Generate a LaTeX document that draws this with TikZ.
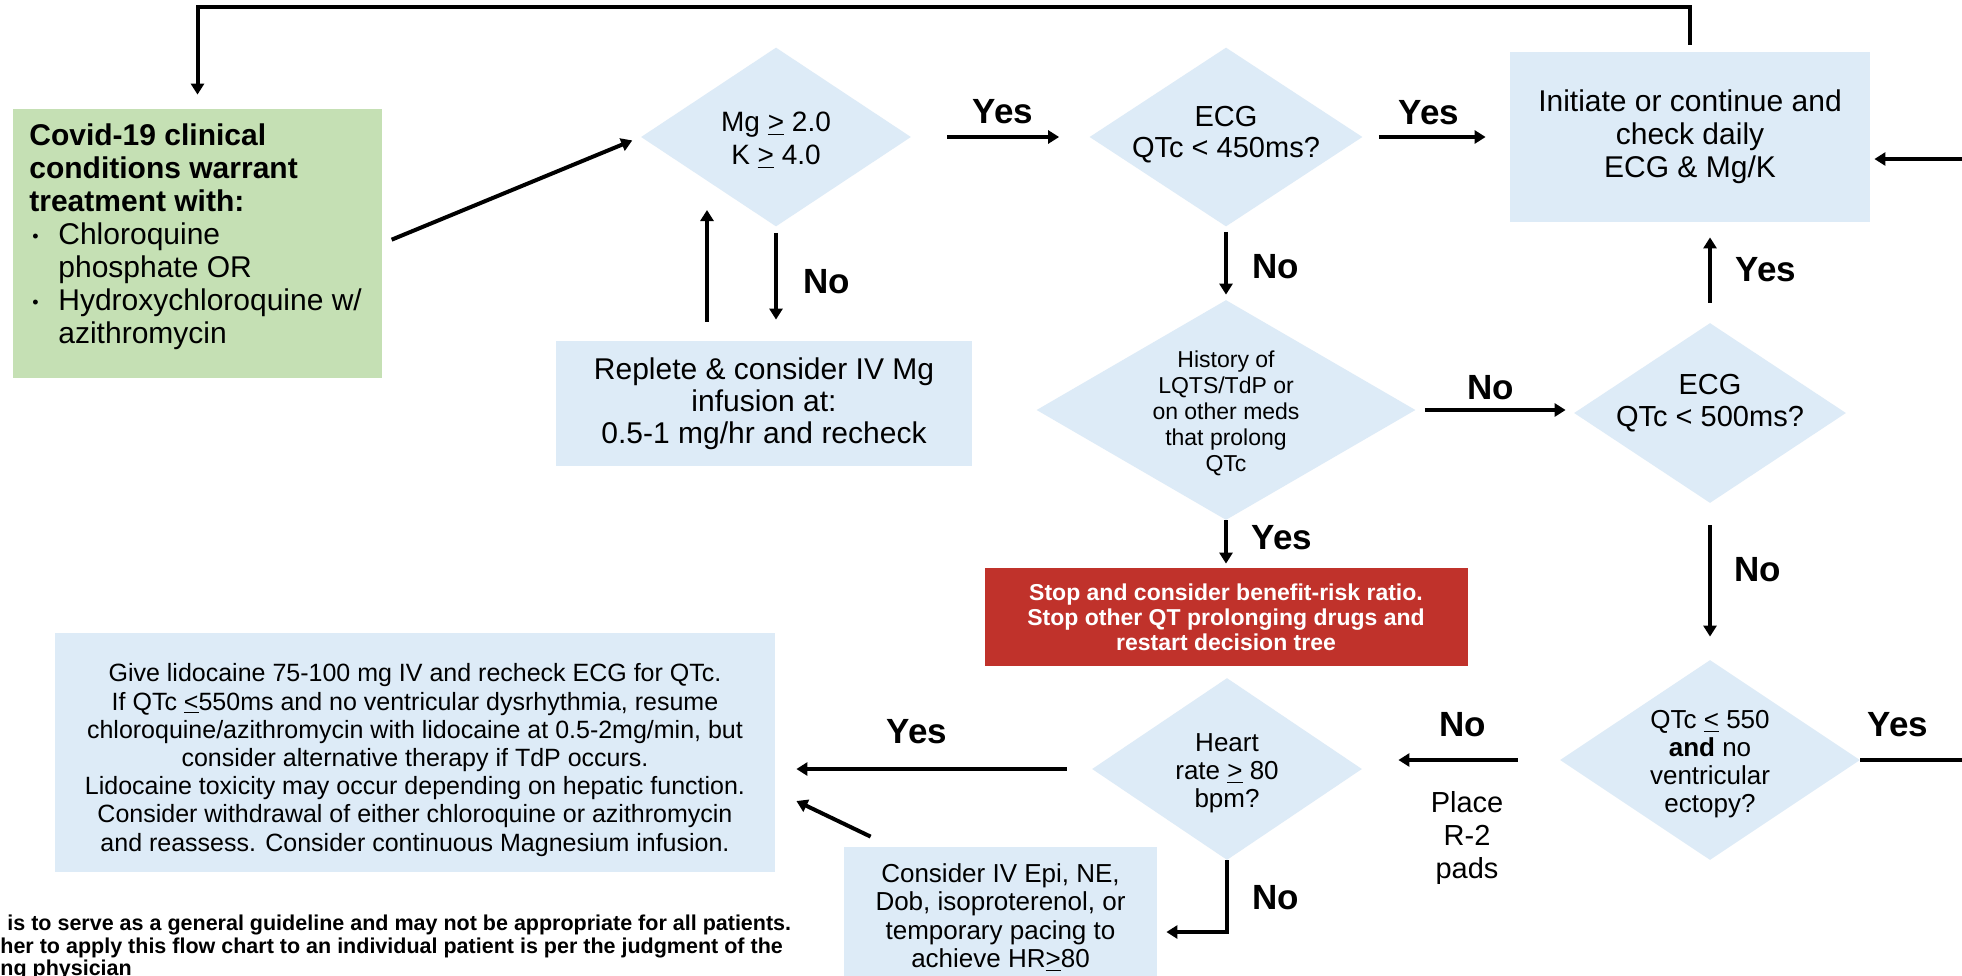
\documentclass[tikz,border=0pt]{standalone}
\usepackage{fontspec}
\setmainfont{Liberation Sans}
\usetikzlibrary{shapes.geometric,arrows.meta}
\definecolor{boxblue}{RGB}{221,235,247}
\definecolor{startgreen}{RGB}{197,224,180}
\definecolor{stopred}{RGB}{192,50,43}
\newcommand\ugt{\underline{>}}
\newcommand\ult{\underline{<}}
\newcommand\fs[2]{\fontsize{#1}{#2}\selectfont}
\newcommand\itembul{\hspace*{1.5pt}\makebox[13pt][l]{\raisebox{1pt}{\fs{9}{9}•}}}

\begin{document}
\begin{tikzpicture}[x=0.5pt,y=-0.5pt,
  flowbox/.style={rectangle, fill=boxblue, inner sep=0pt, align=center},
  decision/.style={diamond, fill=boxblue, inner sep=0pt},
  dtext/.style={align=center, inner sep=0pt},
  conn/.style={line width=2pt, -{Triangle[length=5.5pt,width=6.5pt]}},
  answer/.style={font=\fs{17.5}{20}\bfseries, inner sep=0pt},
]
\fill[white] (0,0) rectangle (1962,975);
\useasboundingbox (0,0) rectangle (1962,975);

% ---- start condition
\node[fill=startgreen, minimum width=184.5pt, minimum height=134.5pt, inner sep=0pt] (start) at (197.5,243.5) {};
\node[anchor=north west, align=left, inner sep=0pt, font=\fs{15}{16.5}] (starttxt) at (29,123)
  {\textbf{Covid-19 clinical}\\\textbf{conditions warrant}\\\textbf{treatment with:}\\
   \itembul Chloroquine\\\hspace*{14.5pt}phosphate OR\\
   \itembul Hydroxychloroquine w/\\\hspace*{14.5pt}azithromycin};

% ---- electrolytes
\node[decision, minimum width=135pt, minimum height=89.5pt] (mg) at (776,137) {};
\node[dtext, font=\fs{14}{16.5}] (mgtxt) at (776,140) {Mg \ugt{} 2.0\\K \ugt{} 4.0};

\node[flowbox, minimum width=208pt, minimum height=62.5pt, font=\fs{15}{16}] (rep) at (764,403.5)
  {Replete \& consider IV Mg\\infusion at:\\0.5-1 mg/hr and recheck};

% ---- first ECG check
\node[decision, minimum width=136.5pt, minimum height=89.5pt] (ecgA) at (1226,137) {};
\node[dtext, font=\fs{14.5}{15.5}] (ecgAtxt) at (1226,135) {ECG\\QTc < 450ms?};

\node[flowbox, minimum width=180pt, minimum height=85pt, font=\fs{15}{16.5}] (init) at (1690,137)
  {Initiate or continue and\\check daily\\ECG \& Mg/K};

% ---- history
\node[decision, minimum width=189.5pt, minimum height=110pt] (hist) at (1226,410) {};
\node[dtext, font=\fs{11.5}{13}] (histtxt) at (1226,413) {History of\\LQTS/TdP or\\on other meds\\that prolong\\QTc};

\node[rectangle, fill=stopred, text=white, inner sep=0pt, minimum width=241.5pt, minimum height=49pt,
      align=center, font=\fs{11.5}{12.5}\bfseries] (stop) at (1226,617)
  {Stop and consider benefit-risk ratio.\\Stop other QT prolonging drugs and\\restart decision tree};

% ---- second ECG check
\node[decision, minimum width=136pt, minimum height=90pt] (ecgB) at (1710,413) {};
\node[dtext, font=\fs{14.5}{16}] (ecgBtxt) at (1710,403) {ECG\\QTc < 500ms?};

\node[decision, minimum width=150pt, minimum height=100pt] (qtc) at (1710,760) {};
\node[dtext, font=\fs{13}{14}] (qtctxt) at (1710,764) {QTc \ult{} 550\\\textbf{and} no\\ventricular\\ectopy?};

\node[dtext, font=\fs{14.5}{16.5}] (pads) at (1467,838) {Place\\R-2\\pads};

% ---- heart rate
\node[decision, minimum width=135pt, minimum height=91pt] (hr) at (1227,769) {};
\node[dtext, font=\fs{13}{14}] (hrtxt) at (1227,773) {Heart\\rate \ugt{} 80\\bpm?};

\node[flowbox, minimum width=360pt, minimum height=119.5pt] (lido) at (415,752.5) {};
\node[dtext, font=\fs{12.5}{14.1}] (lidotxt) at (415,760)
  {Give lidocaine 75-100 mg IV and recheck ECG for QTc.\\
   If QTc \ult{}550ms and no ventricular dysrhythmia, resume\\
   chloroquine/azithromycin with lidocaine at 0.5-2mg/min, but\\
   consider alternative therapy if TdP occurs.\\
   Lidocaine toxicity may occur depending on hepatic function.\\
   Consider withdrawal of either chloroquine or azithromycin\\
   and reassess. Consider continuous Magnesium infusion.};

\node[flowbox, minimum width=156.5pt, minimum height=70.5pt, font=\fs{13}{14.3}] (epi) at (1000.5,917.5)
  {Consider IV Epi, NE,\\Dob, isoproterenol, or\\temporary pacing to\\achieve HR\ugt{}80};

% ---- footnote
\node[anchor=north west, align=left, inner sep=0pt, font=\fs{10.75}{11.25}\bfseries] (note) at (0,915)
  {\hspace*{3.5pt}is to serve as a general guideline and may not be appropriate for all patients.\\
   her to apply this flow chart to an individual patient is per the judgment of the\\
   ng physician};

% ---- connectors
\coordinate (looptop) at (0,7);
\coordinate (mgback) at (707,210);
\coordinate (edge) at (1972,0);

\draw[conn, shorten <=5pt, shorten >=4.5pt] (start.east) -- (mg.west);
\draw[conn, shorten <=18pt, shorten >=15pt] (mg.east) -- (ecgA.west);
\node[answer] (y1) at (1003,112) {Yes};
\draw[conn, shorten <=8pt, shorten >=12pt] (ecgA.east) -- (init.west);
\node[answer] (y2) at (1429,113) {Yes};
\draw[conn, shorten <=3.5pt, shorten >=7pt] (init.north) -- (init.north |- looptop) -| (start.north);

\draw[conn, shorten <=3pt, shorten >=10.5pt] (mg.south) -- (mg.south |- rep.north);
\node[answer] (n1) at (827,282) {No};
\draw[conn, shorten <=9.5pt] (rep.north -| mgback) -- (mgback);

\draw[conn, shorten <=2.5pt, shorten >=2.5pt] (ecgA.south) -- (hist.north);
\node[answer] (n2) at (1276,267) {No};
\draw[conn, shorten <=4.5pt, shorten >=4pt] (hist.east) -- (hist.east -| ecgB.west);
\node[answer] (n3) at (1491,388) {No};
\draw[conn, shorten >=2pt] (hist.south) -- (stop.north);
\node[answer] (y3) at (1282,538) {Yes};

\draw[conn, shorten <=10pt, shorten >=7.5pt] (ecgB.north) -- (ecgB.north |- init.south);
\node[answer] (y4) at (1766,270) {Yes};
\draw[conn, shorten <=11pt, shorten >=11.5pt] (ecgB.south) -- (qtc.north);
\node[answer] (n4) at (1758,570) {No};

\draw[conn, shorten >=2pt] (qtc.east) -- (qtc.east -| edge) |- ([yshift=-11pt]init.east);
\node[answer] (y5) at (1898,725) {Yes};
\draw[conn, shorten <=21pt, shorten >=18pt] (qtc.west) -- (qtc.west -| hr.east);
\node[answer] (n5) at (1463,725) {No};

\draw[conn, shorten <=12.5pt, shorten >=10.5pt] (hr.west) -- (hr.west -| lido.east);
\node[answer] (y6) at (917,732) {Yes};
\draw[conn, shorten >=4.5pt] (hr.south) |- ([yshift=-7.25pt]epi.east);
\node[answer] (n6) at (1276,898) {No};
\draw[conn] ([shift={(13.5pt,5pt)}]epi.north west) -- ([shift={(10.5pt,-24.25pt)}]lido.east);
\end{tikzpicture}
\end{document}
